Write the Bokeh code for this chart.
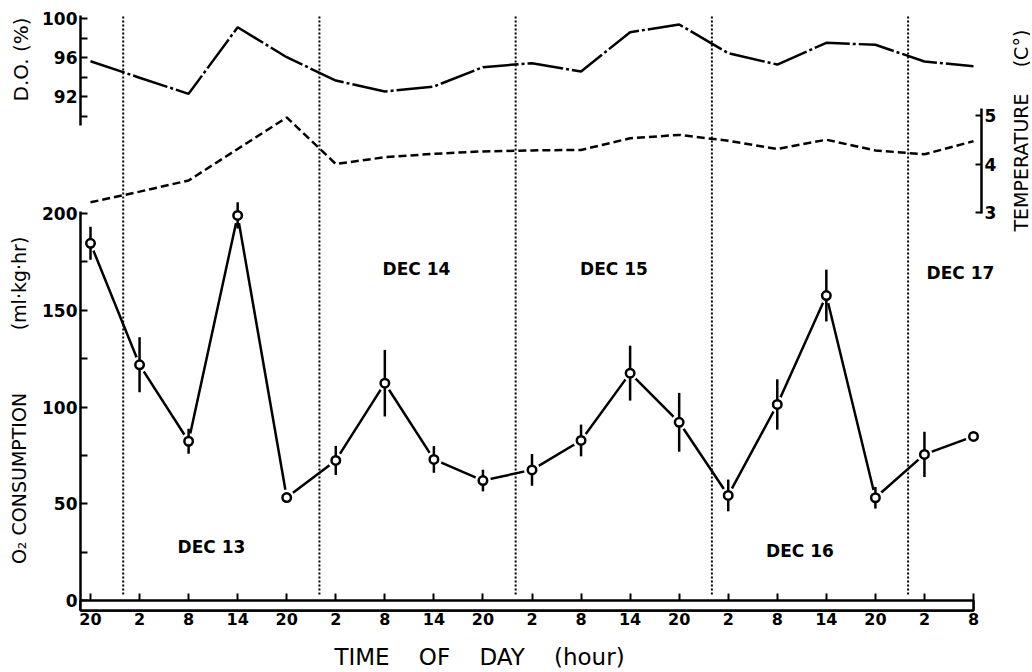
from math import pi

from bokeh.plotting import figure
from bokeh.models import (Range1d, LinearAxis, FixedTicker, Label,
                          LabelSet, ColumnDataSource)
from bokeh.embed import file_html
from bokeh.resources import INLINE
from bokeh.core.properties import value

# ------------------------------------------------------------------ data
hours = [0, 6, 12, 18, 24, 30, 36, 42, 48, 54, 60, 66, 72, 78, 84, 90, 96, 102, 108]
hour_labels = ["20", "2", "8", "14", "20", "2", "8", "14", "20", "2",
               "8", "14", "20", "2", "8", "14", "20", "2", "8"]
o2_mean = [184.6, 121.8, 82.3, 199.0, 53.2, 72.4, 112.3, 72.9, 62.0, 67.5,
           82.7, 117.5, 92.1, 54.3, 101.3, 157.6, 53.1, 75.5, 84.8]
o2_err = [8.5, 14.2, 6.5, 6.8, 0.0, 7.5, 17.2, 6.9, 5.6, 8.2,
          8.2, 14.2, 15.2, 8.2, 13.0, 13.4, 5.6, 11.7, 0.0]
do_pct = [95.66, 93.97, 92.32, 99.14, 96.07, 93.68, 92.56, 93.07, 95.05, 95.46,
          94.61, 98.63, 99.42, 96.48, 95.32, 97.54, 97.34, 95.63, 95.15]
temp_c = [3.21, 3.43, 3.66, 4.31, 4.96, 4.00, 4.14, 4.21, 4.26, 4.28,
          4.29, 4.53, 4.60, 4.48, 4.31, 4.50, 4.28, 4.20, 4.47]
midnight_hours = [4, 28, 52, 76, 100]
day_labels = ["DEC 13", "DEC 14", "DEC 15", "DEC 16", "DEC 17"]
o2_ticks = [0, 50, 100, 150, 200]
o2_minor_ticks = [25, 75, 125, 175]
do_ticks = [92, 96, 100]
do_minor_ticks = [90, 94, 98]
temp_ticks = [3, 4, 5]

# ------------------------------------------------------------------ layout / style
FONT = "DejaVu Sans"
W, H = 1030, 670          # the frame fills the whole canvas; axes use fixed locations
AX_L, AX_R, TOP, BAR_B = 80, 981, 15, 610          # page pixels

# page-pixel anchors of the reference scales
PX_FIRST, PX_LAST = 90, 973
KX = (PX_LAST - PX_FIRST) / (hours[-1] - hours[0])
PY_O2_0, PY_O2_200 = 600, 213
KY = (PY_O2_0 - PY_O2_200) / 200.0
PY_DO_100, PY_DO_90 = 18.3, 116
KD = (PY_DO_90 - PY_DO_100) / 10.0
PY_T5, PY_T3 = 115, 212
KT = (PY_T3 - PY_T5) / 2.0


def hx(px):
    return hours[0] + (px - PX_FIRST) / KX


def oy(py):
    return (PY_O2_0 - py) / KY


def dy(py):
    return 100 - (py - PY_DO_100) / KD


def ty(py):
    return 5 - (py - PY_T5) / KT


p = figure(width=W, height=H, title=None,
           x_range=Range1d(hx(0), hx(W)),
           y_range=Range1d(oy(H), oy(0)),
           output_backend="svg", toolbar_location=None,
           min_border=0, min_border_left=0, min_border_right=0,
           min_border_top=0, min_border_bottom=0,
           outline_line_color=None, background_fill_color="white",
           border_fill_color="white")
p.xgrid.visible = False
p.ygrid.visible = False
p.extra_y_ranges = {"do": Range1d(dy(H), dy(0)),
                    "temp": Range1d(ty(H), ty(0))}


def style_axis(ax, size="17px", tick_in=7, standoff=3):
    ax.axis_line_color = "black"
    ax.axis_line_width = 2.5
    ax.major_tick_line_color = "black"
    ax.minor_tick_line_color = "black"
    ax.major_tick_line_width = 2
    ax.minor_tick_line_width = 2
    ax.major_tick_in = tick_in
    ax.major_tick_out = 0
    ax.minor_tick_in = tick_in
    ax.minor_tick_out = 0
    ax.major_label_standoff = standoff
    ax.major_label_text_font = FONT
    ax.major_label_text_font_style = "bold"
    ax.major_label_text_font_size = size
    ax.major_label_text_color = "black"


# O2 axis (left)
o2_axis = p.yaxis[0]
o2_axis.ticker = FixedTicker(ticks=o2_ticks, minor_ticks=o2_minor_ticks)
o2_axis.bounds = (oy(BAR_B), 201)
o2_axis.fixed_location = hx(AX_L)
style_axis(o2_axis)

# D.O. axis (left, same line)
do_axis = LinearAxis(y_range_name="do",
                     ticker=FixedTicker(ticks=do_ticks, minor_ticks=do_minor_ticks),
                     bounds=(dy(125), dy(TOP)),
                     fixed_location=hx(AX_L))
style_axis(do_axis)
p.add_layout(do_axis, "left")

# temperature axis (right)
t_axis = LinearAxis(y_range_name="temp", ticker=FixedTicker(ticks=temp_ticks),
                    bounds=(ty(213), ty(108)), fixed_location=hx(AX_R))
style_axis(t_axis, size="17px", tick_in=6)
p.add_layout(t_axis, "right")

# time axis (below)
x_axis = p.xaxis[0]
x_axis.ticker = FixedTicker(ticks=hours)
x_axis.major_label_overrides = dict(zip(hours, hour_labels))
x_axis.bounds = (hx(AX_L), hours[-1])
x_axis.fixed_location = oy(BAR_B)
style_axis(x_axis, size="16px", tick_in=17, standoff=2)

# ------------------------------------------------------------------ marks
p.segment(x0=midnight_hours, y0=[oy(594)] * len(midnight_hours),
          x1=midnight_hours, y1=[oy(TOP)] * len(midnight_hours),
          line_color="black", line_width=2, line_dash="2 2")
p.line(hours, do_pct, y_range_name="do", line_color="black", line_width=2.5,
       line_dash="36 3 3 3")
p.line(hours, temp_c, y_range_name="temp", line_color="black", line_width=2.5,
       line_dash="8 4")

o2_lo = [m - e for m, e in zip(o2_mean, o2_err)]
o2_hi = [m + e for m, e in zip(o2_mean, o2_err)]
p.line(hours, o2_mean, line_color="black", line_width=2.5)
p.scatter(hours, o2_mean, size=16, fill_color="white", line_color=None)
p.segment(hours, o2_lo, hours, o2_hi, line_color="black", line_width=2.5)
p.scatter(hours, o2_mean, size=8.5, fill_color="white", line_color="black",
          line_width=2.5)

# the double-lined time-axis bar
p.quad(left=[hx(AX_L)], right=[hours[-1]], bottom=[oy(BAR_B)], top=[o2_ticks[0]],
       fill_color="white", line_color="black", line_width=2.5, level="overlay")

# day labels
day_px = [(211, 546), (416, 268), (613.5, 268), (799.5, 550.5), (960, 272.5)]
day_src = ColumnDataSource(dict(x=[hx(a) for a, b in day_px],
                                y=[oy(b) for a, b in day_px],
                                text=day_labels))
p.add_layout(LabelSet(x="x", y="y", text="text", source=day_src,
                      text_align="center", text_baseline="middle",
                      text_font=value(FONT), text_font_size=value("17px"),
                      text_font_style=value("bold"),
                      text_color=value("black")))


def title(text, px, py, size, angle=0.0):
    p.add_layout(Label(x=hx(px), y=oy(py), text=text, angle=angle,
                       text_align="center", text_baseline="middle",
                       text_font=FONT, text_font_size=size, text_color="black"))


NB = "\u00a0"
title("D.O. (%)", 20, 59, "20px", pi / 2)
title("O\u2082 CONSUMPTION", 18, 478, "19px", pi / 2)
title("(ml\u00b7kg\u00b7hr)", 18, 283, "19px", pi / 2)
title("TEMPERATURE", 1020, 162, "19px", pi / 2)
title("(C\u00b0)", 1020, 48, "19px", pi / 2)
title("TIME" + NB * 4 + "OF" + NB * 4 + "DAY" + NB * 4 + "(hour)", 479, 656, "23px")

open("out.html", "w").write(file_html(p, INLINE))
